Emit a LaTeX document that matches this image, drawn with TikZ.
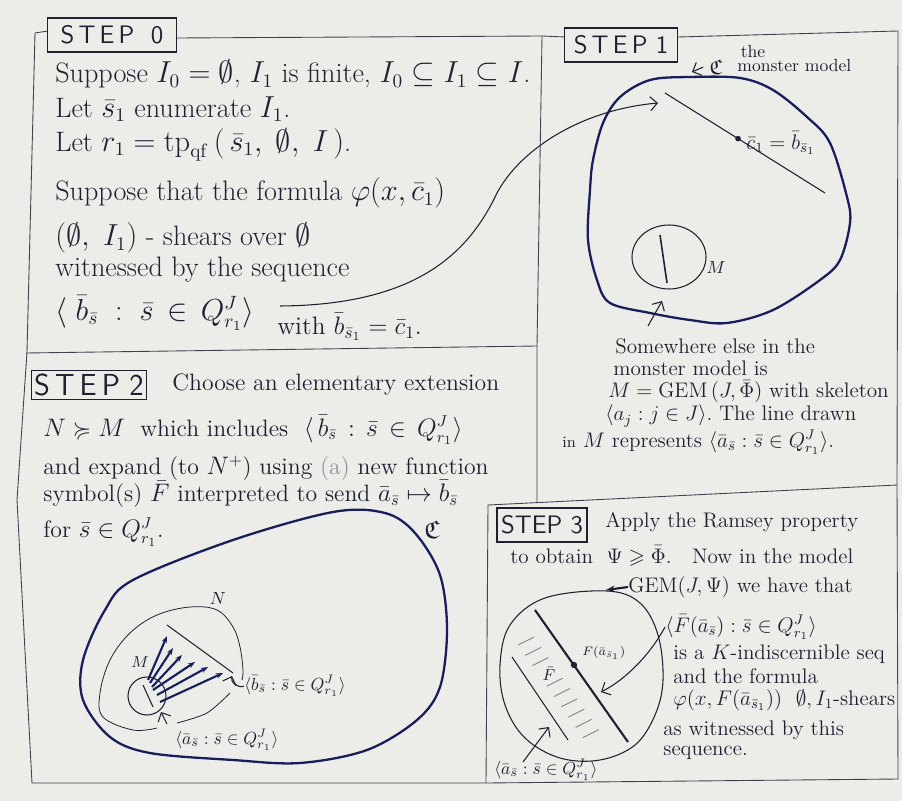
\documentclass[tikz,border=0pt]{standalone}
\usepackage{amsmath,amssymb}
\usetikzlibrary{arrows.meta,positioning,calc}
\definecolor{paper}{RGB}{236,236,233}
\definecolor{ink}{RGB}{30,32,48}
\definecolor{navy}{RGB}{24,30,92}

\begin{document}
\begin{tikzpicture}[
  x=0.2mm, y=-0.2mm,
  frame/.style={draw=ink!85, line width=0.5pt},
  stepbox/.style={draw=ink, line width=0.6pt, font=\sffamily\Large, text=ink, inner sep=0pt},
  txt/.style={anchor=west, inner sep=0pt, text=ink, font=\fontsize{16}{19}\selectfont},
  mid/.style={anchor=west, inner sep=0pt, text=ink, font=\fontsize{13.5}{16}\selectfont},
  note/.style={anchor=west, inner sep=0pt, text=ink, font=\large},
  lbl/.style={anchor=west, inner sep=0pt, text=ink, font=\normalsize},
  blob/.style={draw=navy, line width=1.3pt},
  pen/.style={draw=ink, line width=0.6pt},
  hatch/.style={draw=ink!55, line width=0.5pt},
  hand/.style={-{Straight Barb[length=4pt]}, ink, line width=0.6pt},
  fan/.style={-{Stealth[length=4pt]}, navy, line width=1.2pt}
]
\fill[paper] (0,0) rectangle (902,801);
\useasboundingbox (0,0) rectangle (902,801);

% panel frames
\draw[frame] (48,31) -- (35,33) -- (27,352) -- (17,500) -- (32,783) -- (486,783) -- (898,779) -- (897,485) -- (898,31) -- (678,37);
\draw[frame] (177,38) -- (542,36) -- (565,37);
\draw[frame] (542,36) -- (537,346) -- (537,503);
\draw[frame] (26,353) -- (537,346);
\draw[frame] (486,783) -- (488,505) -- (897,485);

% step labels
\node[stepbox, minimum width=25.8mm, minimum height=6.8mm] (step0) at (112,35) {S\,T\,E\,P\ \ 0};
\node[stepbox, minimum width=22.6mm, minimum height=6.8mm] (step1) at (621,45) {S\,T\,E\,P\ 1};
\node[stepbox, font=\sffamily\LARGE, minimum width=23mm, minimum height=5.8mm] (step2) at (89,385) {S\,T\,E\,P\ 2};
\node[stepbox, minimum width=18mm, minimum height=6.8mm] (step3) at (542,525) {STEP 3};

% step 0
\node[txt] (s0a) at (55,74) {Suppose $I_0 = \emptyset$, $I_1$ is finite, $I_0 \subseteq I_1 \subseteq I$.};
\node[txt] (s0b) at (55,109) {Let $\bar s_1$ enumerate $I_1$.};
\node[txt] (s0c) at (55,145) {Let $r_1 = \mathrm{tp}_{\mathrm{qf}}\,(\,\bar s_1,\ \emptyset,\ I\,)$.};
\node[txt] (s0d) at (55,193) {Suppose that the formula $\varphi(x,\bar c_1)$};
\node[txt] (s0e) at (55,238) {$(\emptyset,\ I_1)$ - shears over $\emptyset$};
\node[txt] (s0f) at (55,270) {witnessed by the sequence};
\node[txt] (s0g) at (55,313) {$\langle\ \bar b_{\bar s}\ :\ \bar s\, \in\, Q^J_{r_1}\rangle$};
\node[note, font=\Large] (s0h) at (277,327) {with $\bar b_{\bar s_1} = \bar c_1$.};

% step 1
\draw[blob] plot[smooth cycle, tension=0.55] coordinates {(603,123) (620,97) (650,80) (690,77) (740,78) (773,90) (807,117) (830,143) (847,197) (850,223) (840,260) (820,280) (773,310) (727,323) (690,320) (650,313) (610,303) (597,280) (588,240) (590,190) (593,160)};
\node[font=\normalsize, text=ink] (the) at (753,52) {the};
\node[note, font=\normalsize] (mm) at (737,66) {monster model};
\node[text=ink, font=\large] (mC) at (716,67) {$\mathfrak{C}$};
\coordinate (mCtip) at (692,72);
\draw[hand] (mC.west) -- (mCtip);

\coordinate (l1a) at (665,93);
\coordinate (l1b) at (825,193);
\draw[pen] (l1a) -- (l1b);
\fill[ink] (738,138.6) circle (1.6pt);
\node[note] (c1) at (746,143) {$\bar c_1 = \bar b_{\bar s_1}$};

\draw[pen] (669,257) circle[x radius=37, y radius=32];
\draw[pen, line width=0.9pt] (660,235) -- (667,283);
\node[text=ink, font=\normalsize] (M1) at (716,267) {$M$};

\coordinate (upa) at (648,326);
\coordinate (upb) at (662,301);
\draw[hand] (upa) -- (upb);

\node[note] (s1a) at (615,346) {Somewhere else in the};
\node[note] (s1b) at (613,368) {monster model is};
\node[note] (s1c) at (608,392) {$M = \mathrm{GEM}\,(J,\bar\Phi)$ with skeleton};
\node[note] (s1d) at (605,416) {$\langle a_j : j \in J\rangle$.\ The line drawn};
\node[note] (s1e) at (562,442) {{\small in} $M$ represents $\langle \bar a_{\bar s} : \bar s \in Q^J_{r_1}\rangle$.};

% step 0 -> step 1
\coordinate (c0) at (280,306);
\coordinate (c1tip) at (658,103);
\draw[hand] (c0) .. controls (420,305) and (470,250) .. (497,193) .. controls (520,150) and (580,110) .. (c1tip);

% step 2
\node[mid, right=5mm of step2] (s2a) {Choose an elementary extension};
\node[mid] (s2b) at (43,430) {$N \succcurlyeq M$\ \ which includes\ \ $\langle\, \bar b_{\bar s}\, :\, \bar s\, \in\, Q^J_{r_1}\rangle$};
\node[mid] (s2c) at (43,468) {and expand (to $N^+$) using {\color{ink!50}(a)} new function};
\node[mid] (s2d) at (43,494) {symbol(s) $\bar F$ interpreted to send $\bar a_{\bar s} \mapsto \bar b_{\bar s}$};
\node[mid] (s2e) at (43,532) {for $\bar s \in Q^J_{r_1}$.};

\draw[blob] plot[smooth cycle, tension=0.55] coordinates {(105,610) (133,580) (233,540) (333,512) (385,513) (415,533) (440,575) (447,630) (440,687) (417,720) (367,750) (300,763) (233,760) (150,753) (110,737) (83,700) (83,660)};
\node[text=ink, font=\Large] (C2) at (432,530) {$\mathfrak{C}$};

\draw[pen, line width=0.45pt] plot[smooth, tension=0.6] coordinates {(157,728) (133,730) (103,717) (100,693) (110,660) (130,633) (157,615) (190,607) (217,610) (233,627) (240,647) (243,670) (242,680)};
\draw[pen, line width=0.45pt] plot[smooth] coordinates {(177,723) (207,713) (230,693)};
\node[text=ink, font=\normalsize] (N) at (218,598) {$N$};

\draw[pen] (147,696) circle (19);
\draw[pen] (143,685) -- (153,707);
\node[text=ink, font=\small] (M2) at (140,662) {$M$};

\coordinate (b2a) at (167,625);
\coordinate (b2b) at (233,673);
\draw[pen] (b2a) -- (b2b);
\foreach \sx/\sy/\ex/\ey in {148/680/167/636, 150/683/173/648, 152/687/182/655, 153/690/195/662, 157/695/208/667, 160/702/223/673}
  \draw[fan] (\sx,\sy) -- (\ex,\ey);

\node[lbl] (bl) at (244,686) {$\langle \bar b_{\bar s} : \bar s \in Q^J_{r_1}\rangle$};
\coordinate (bhook) at (232,676);
\draw[hand] (bl.west) to[bend left=70] (bhook);
\coordinate (atail) at (167,724);
\coordinate (aup) at (161,712);
\draw[hand] (atail) -- (aup);
\node[lbl] (al) at (175,740) {$\langle \bar a_{\bar s} : \bar s \in Q^J_{r_1}\rangle$};

% step 3
\node[note] (s3a) at (605,522) {Apply the Ramsey property};
\node[note] (s3b) at (510,556) {to obtain\ \ $\Psi \geqslant \bar\Phi$.\ \ \ Now in the model};
\node[note] (gem) at (628,587) {GEM$(J,\Psi)$ we have that};
\coordinate (gemtip) at (606,590);
\draw[-{Stealth[length=5pt]}, ink, line width=1.2pt] (gem.west) -- (gemtip);
\node[note] (fs) at (665,627) {$\langle \bar F(\bar a_{\bar s}) : \bar s \in Q^J_{r_1}\rangle$};
\node[note] (s3d) at (673,654) {is a $K$-indiscernible seq};
\node[note] (s3e) at (673,676) {and the formula};
\node[note] (s3f) at (673,700) {$\varphi(x, F(\bar a_{\bar s_1}))$\ \ $\emptyset, I_1$-shears};
\node[note] (s3g) at (663,730) {as witnessed by this};
\node[note] (s3h) at (663,753) {sequence.};

\draw[pen] plot[smooth cycle, tension=0.6] coordinates {(607,591) (640,603) (658,635) (663,680) (655,715) (635,745) (600,760) (560,758) (525,738) (505,705) (500,665) (510,625) (545,598)};
\draw[pen, line width=1.2pt] (535,610) -- (628,742);
\draw[pen] (512,657) -- (568,740);
\foreach \i in {0,1,2,4,5,6,7,8,9}
  \draw[hatch] ({518+7.2*\i},{645+10.3*\i}) -- ++(16,-8);
\node[text=ink, font=\small] (Fbar) at (549,674) {$\bar F$};
\fill[ink] (574,665) circle (1.8pt);
\node[lbl, font=\scriptsize] (Fa) at (582,653) {$F(\bar a_{\bar s_1})$};

\coordinate (ftip) at (601,692);
\draw[hand] (fs.west) .. controls (650,655) and (625,680) .. (ftip);

\node[lbl] (as3) at (494,770) {$\langle \bar a_{\bar s} : \bar s \in Q^J_{r_1}\rangle$};
\coordinate (a3tail) at (523,762);
\coordinate (a3tip) at (549,727);
\draw[hand] (a3tail) -- (a3tip);
\end{tikzpicture}
\end{document}
